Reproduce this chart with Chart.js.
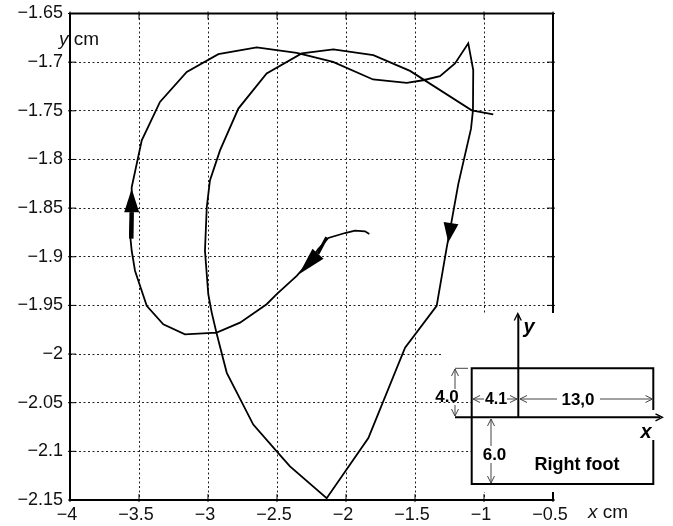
<!DOCTYPE html>
<html>
<head>
<meta charset="utf-8">
<script src="https://cdn.jsdelivr.net/npm/chart.js@4.4.1/dist/chart.umd.min.js"></script>
<style>
  html, body { margin: 0; padding: 0; background: #fff; }
  #wrap { width: 673px; height: 526px; }
</style>
</head>
<body>
<div id="wrap"><canvas id="cop_chart"></canvas></div>
<script>
// centre of pressure trajectory, right foot (cm)
var pathX = [-1.831, -1.862, -1.935, -2.007, -2.128, -2.201, -2.261, -2.357, -2.502, -2.575,
  -2.768, -2.937, -3.167, -3.324, -3.444, -3.529, -3.553, -3.565, -3.553, -3.553,
  -3.480, -3.348, -3.154, -2.925, -2.647, -2.357, -2.094, -1.804, -1.560, -1.442,
  -1.319, -1.210, -1.114, -1.078, -1.080, -1.094, -1.186, -1.234, -1.270, -1.343,
  -1.572, -1.838, -2.140, -2.406, -2.502, -2.672, -2.864, -2.937, -2.973, -2.998,
  -3.022, -3.009, -2.986, -2.913, -2.780, -2.575, -2.321, -2.092, -1.802, -1.536,
  -1.089, -0.933];
var pathY = [-1.8766, -1.8739, -1.8732, -1.8756, -1.8807, -1.8921, -1.9041, -1.9196, -1.9385, -1.9488,
  -1.9677, -1.9780, -1.9797, -1.9694, -1.9505, -1.9144, -1.8938, -1.8766, -1.8492, -1.8286,
  -1.7804, -1.7409, -1.7100, -1.6918, -1.6848, -1.6904, -1.6997, -1.7178, -1.7213, -1.7186,
  -1.7144, -1.7013, -1.6807, -1.7082, -1.7495, -1.7684, -1.8251, -1.8629, -1.8904, -1.9505,
  -1.9935, -2.0863, -2.1481, -2.1155, -2.1000, -2.0725, -2.0193, -1.9791, -1.9574, -1.9385,
  -1.8938, -1.8492, -1.8216, -1.7907, -1.7477, -1.7116, -1.6910, -1.6869, -1.6928, -1.7090,
  -1.7495, -1.7536];

var xTicks = [-4, -3.5, -3, -2.5, -2, -1.5, -1, -0.5];
var yTicks = [-2.15, -2.1, -2.05, -2, -1.95, -1.9, -1.85, -1.8, -1.75, -1.7, -1.65];

// direction arrows on the path: tip, base of head, end of shaft
var arrowTipX = [-3.553, -2.341, -1.259];
var arrowTipY = [-1.8302, -1.9180, -1.8853];
var arrowBaseX = [-3.553, -2.203, -1.239];
var arrowBaseY = [-1.8543, -1.8969, -1.8655];
var arrowTailX = [-3.556, -2.140, -1.239];
var arrowTailY = [-1.8814, -1.8800, -1.8655];

function minus(v) {
  return String(v).replace('-', '\u2212');
}

function openHead(ctx, x, y, dx, dy) {
  var l = 7, w = 3.5;
  ctx.beginPath();
  ctx.moveTo(x - dx * l - dy * w, y - dy * l + dx * w);
  ctx.lineTo(x, y);
  ctx.lineTo(x - dx * l + dy * w, y - dy * l - dx * w);
  ctx.stroke();
}

function line(ctx, x1, y1, x2, y2) {
  ctx.beginPath();
  ctx.moveTo(x1, y1);
  ctx.lineTo(x2, y2);
  ctx.stroke();
}

var extras = {
  id: 'extras',
  afterDraw: function(chart) {
    var ctx = chart.ctx, a = chart.chartArea;
    var xs = chart.scales.x, ys = chart.scales.y;
    var shaftW = [4.5, 3, 0];
    ctx.save();

    // arrowheads
    ctx.fillStyle = '#000';
    ctx.strokeStyle = '#000';
    for (var i = 0; i < arrowTipX.length; i++) {
      var tx = xs.getPixelForValue(arrowTipX[i]), ty = ys.getPixelForValue(arrowTipY[i]);
      var bx = xs.getPixelForValue(arrowBaseX[i]), by = ys.getPixelForValue(arrowBaseY[i]);
      var sx = xs.getPixelForValue(arrowTailX[i]), sy = ys.getPixelForValue(arrowTailY[i]);
      if (shaftW[i] > 0) {
        ctx.lineWidth = shaftW[i];
        line(ctx, bx, by, sx, sy);
      }
      var dx = tx - bx, dy = ty - by, len = Math.hypot(dx, dy);
      var nx = -dy / len * 7.5, ny = dx / len * 7.5;
      ctx.beginPath();
      ctx.moveTo(tx, ty);
      ctx.lineTo(bx + nx, by + ny);
      ctx.lineTo(bx - nx, by - ny);
      ctx.closePath();
      ctx.fill();
    }

    // inward ticks
    ctx.lineWidth = 1;
    xTicks.forEach(function(v) {
      var p = xs.getPixelForValue(v);
      line(ctx, p, a.bottom + 2, p, a.bottom - 6);
      line(ctx, p, a.top - 2, p, a.top + 6);
    });
    yTicks.forEach(function(v) {
      var p = ys.getPixelForValue(v);
      line(ctx, a.left - 2, p, a.left + 6, p);
      line(ctx, a.right + 2, p, a.right - 6, p);
    });

    // frame
    ctx.lineWidth = 2;
    ctx.strokeRect(a.left, a.top, a.right - a.left, a.bottom - a.top);

    // axis titles
    ctx.fillStyle = '#111';
    ctx.textBaseline = 'alphabetic';
    ctx.textAlign = 'left';
    ctx.font = 'italic 19px "Liberation Sans", Arial, sans-serif';
    ctx.fillText('y', 59, 45);
    var wy = ctx.measureText('y').width;
    ctx.font = '19px "Liberation Sans", Arial, sans-serif';
    ctx.fillText(' cm', 59 + wy, 45);
    ctx.font = 'italic 19px "Liberation Sans", Arial, sans-serif';
    ctx.fillText('x', 588, 518);
    var wx = ctx.measureText('x').width;
    ctx.font = '19px "Liberation Sans", Arial, sans-serif';
    ctx.fillText(' cm', 588 + wx, 518);

    // inset: right foot coordinate sketch
    ctx.fillStyle = '#fff';
    ctx.fillRect(442, 313, 231, 67);
    ctx.fillRect(472, 380, 201, 112);

    ctx.strokeStyle = '#000';
    ctx.lineWidth = 2;
    ctx.beginPath();
    ctx.moveTo(653.3, 410);
    ctx.lineTo(653.3, 368.3);
    ctx.lineTo(471.7, 368.3);
    ctx.lineTo(471.7, 484);
    ctx.lineTo(653.3, 484);
    ctx.lineTo(653.3, 440);
    ctx.stroke();
    line(ctx, 518.3, 315, 518.3, 417.3);
    line(ctx, 455, 417.3, 660, 417.3);
    ctx.lineWidth = 1.3;
    openHead(ctx, 517.8, 313.5, 0, -1);
    openHead(ctx, 662.5, 417.3, 1, 0);

    // dimension lines
    ctx.strokeStyle = '#444';
    ctx.lineWidth = 1;
    line(ctx, 455, 368.3, 468, 368.3);
    line(ctx, 455, 369, 455, 389);
    line(ctx, 455, 405, 455, 416);
    openHead(ctx, 455, 369, 0, -1);
    openHead(ctx, 455, 416, 0, 1);
    line(ctx, 473, 399, 484, 399);
    line(ctx, 507, 399, 517, 399);
    openHead(ctx, 473, 399, -1, 0);
    openHead(ctx, 517, 399, 1, 0);
    line(ctx, 520, 399, 557, 399);
    line(ctx, 600, 399, 652, 399);
    openHead(ctx, 520, 399, -1, 0);
    openHead(ctx, 652.5, 399, 1, 0);
    line(ctx, 491, 419, 491, 446);
    line(ctx, 491, 463, 491, 483);
    openHead(ctx, 491, 419, 0, -1);
    openHead(ctx, 491, 483, 0, 1);

    ctx.fillStyle = '#000';
    ctx.textAlign = 'center';
    ctx.textBaseline = 'middle';
    ctx.font = 'bold 17px "Liberation Sans", Arial, sans-serif';
    ctx.fillText('4.0', 447, 397);
    ctx.font = 'bold 16px "Liberation Sans", Arial, sans-serif';
    ctx.fillText('4.1', 496, 400);
    ctx.font = 'bold 17px "Liberation Sans", Arial, sans-serif';
    ctx.fillText('13,0', 578, 400);
    ctx.fillText('6.0', 494.5, 455);
    ctx.font = 'bold 18px "Liberation Sans", Arial, sans-serif';
    ctx.fillText('Right foot', 577, 465);
    ctx.font = 'italic bold 20px "Liberation Sans", Arial, sans-serif';
    ctx.fillText('y', 529, 327);
    ctx.fillText('x', 646, 432);

    ctx.restore();
  }
};

var points = pathX.map(function(v, i) { return {x: v, y: pathY[i]}; });

var ctx1 = document.getElementById('cop_chart');
var copchart = new Chart(ctx1, {
  type: 'scatter',
  data: {
    datasets: [{
      data: points,
      showLine: true,
      borderColor: '#000',
      borderWidth: 1.8,
      pointRadius: 0,
      tension: 0,
      fill: false
    }]
  },
  options: {
    responsive: true,
    maintainAspectRatio: false,
    animation: false,
    layout: {
      padding: { left: 0, right: 120, top: 13.5, bottom: 0 }
    },
    plugins: {
      legend: { display: false },
      tooltip: { enabled: false }
    },
    scales: {
      x: {
        type: 'linear',
        min: -4,
        max: -0.5,
        afterBuildTicks: function(scale) {
          scale.ticks = xTicks.map(function(v) { return {value: v}; });
        },
        afterFit: function(scale) {
          scale.height = 26;
          scale.paddingLeft = 0;
          scale.paddingRight = 0;
        },
        grid: { color: '#222', lineWidth: 1, drawTicks: false },
        border: { display: false, dash: [2, 2.5] },
        ticks: {
          padding: 4,
          labelOffset: -3,
          color: '#111',
          font: { family: '"Liberation Sans", Arial, sans-serif', size: 18 },
          callback: function(v) { return minus(v); }
        }
      },
      y: {
        type: 'linear',
        min: -2.15,
        max: -1.65,
        afterBuildTicks: function(scale) {
          scale.ticks = yTicks.map(function(v) { return {value: v}; });
        },
        afterFit: function(scale) {
          scale.width = 70;
          scale.paddingTop = 0;
          scale.paddingBottom = 0;
        },
        grid: { color: '#222', lineWidth: 1, drawTicks: false },
        border: { display: false, dash: [2, 2.5] },
        ticks: {
          padding: 7,
          color: '#111',
          font: { family: '"Liberation Sans", Arial, sans-serif', size: 18 },
          callback: function(v) { return minus(v); }
        }
      }
    }
  },
  plugins: [extras]
});
</script>
</body>
</html>
